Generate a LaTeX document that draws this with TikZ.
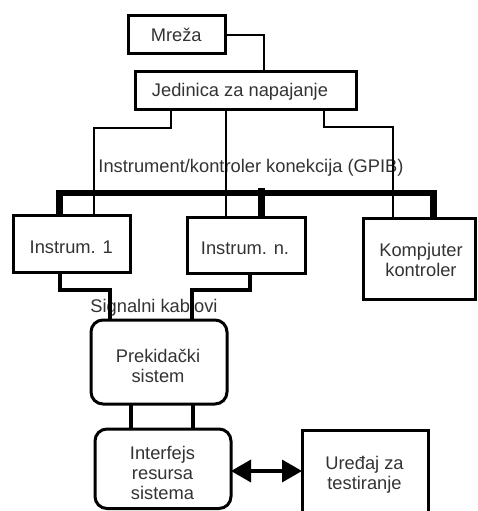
\documentclass[tikz,border=0pt]{standalone}
\usepackage{fontspec}
\setmainfont{Liberation Sans}
\usetikzlibrary{arrows.meta}
\begin{document}
\begin{tikzpicture}[x=1pt,y=-1pt,
  box/.style={draw,line width=3pt,inner sep=0pt,outer sep=0pt},
  rbox/.style={box,rounded corners=12pt},
  lbl/.style={inner sep=0pt,outer sep=0pt,text=black!80,font=\fontsize{18.3}{20}\selectfont},
  txt/.style={lbl,align=center},
  pw/.style={line width=2.2pt,line join=miter},
  bus/.style={line width=6.5pt,line join=miter},
  sigline/.style={line width=3.5pt,line join=miter},
  arr/.style={line width=3.5pt,{Triangle[length=20pt,width=22pt]}-{Triangle[length=20pt,width=22pt]}}
]
\useasboundingbox (0,0) rectangle (477,511);
\clip (0,0) rectangle (477,511);

% boxes
\node[box,minimum width=97pt,minimum height=38pt] (mreza) at (176.5,35) {};
\node[box,minimum width=221pt,minimum height=38pt] (jed) at (245.5,90) {};
\node[box,minimum width=117pt,minimum height=57pt] (i1) at (71.5,243.5) {};
\node[box,minimum width=118pt,minimum height=56pt] (in) at (246,245) {};
\node[box,minimum width=112pt,minimum height=81pt] (komp) at (419,258.5) {};
\node[rbox,minimum width=136pt,minimum height=84pt] (prek) at (159,362) {};
\node[rbox,minimum width=136pt,minimum height=79.5pt] (intf) at (163,468.75) {};
\node[box,minimum width=126pt,minimum height=90pt] (ured) at (365,475) {};

% texts
\node[lbl,anchor=base] (mrezaT) at (176.2,41.7) {Mreža};
\node[lbl,anchor=base] (jedT) at (240,96.7) {Jedinica za napajanje};
\node[lbl,anchor=base] (gpib) at (251,172) {Instrument/kontroler konekcija (GPIB)};
\node[lbl,anchor=base] (i1T) at (71.2,253.3) {Instrum. 1};
\node[lbl,anchor=base] (inT) at (245,254.5) {Instrum. n.};
\node[lbl,anchor=base] (sigT) at (154,312) {Signalni kablovi};
\node[txt] (kompT) at (421,260) {Kompjuter\\kontroler};
\node[txt] (prekT) at (158,365.6) {Prekidački\\sistem};
\node[txt] (intfT) at (162.5,472.5) {Interfejs\\resursa\\sistema};
\node[txt] (uredT) at (364.5,475) {Uređaj za\\testiranje};

% power lines
\coordinate (mj) at (264,0);
\draw[pw] (mreza.east) -| (jed.north -| mj);
\coordinate (pa) at (171,128); \coordinate (pb) at (94,128);
\draw[pw] (jed.south -| pa) -- (pa) -- (pb) -- (i1.north -| pb);
\coordinate (pc) at (226,0);
\draw[pw] (jed.south -| pc) -- (in.north -| pc);
\coordinate (pd) at (324,127); \coordinate (pe) at (393,127);
\draw[pw] (jed.south -| pd) -- (pd) -- (pe) -- (komp.north -| pe);

% GPIB bus
\coordinate (s1) at (59.5,193); \coordinate (s2) at (261.5,188); \coordinate (s3) at (433.5,193);
\draw[bus] (i1.north -| s1) -- (s1) -- (s3) -- (komp.north -| s3);
\draw[bus] (s2) -- (in.north -| s2);

% signal cables
\coordinate (q1) at (60,290); \coordinate (q2) at (110,290);
\coordinate (q3) at (250,290); \coordinate (q4) at (192,290);
\draw[sigline] (i1.south -| q1) -- (q1) -- (q2) -- (prek.north -| q2);
\draw[sigline] (in.south -| q3) -- (q3) -- (q4) -- (prek.north -| q4);
\coordinate (r1) at (131,0); \coordinate (r2) at (193,0);
\draw[sigline] (prek.south -| r1) -- (intf.north -| r1);
\draw[sigline] (prek.south -| r2) -- (intf.north -| r2);

% arrow
\coordinate (ay) at (0,471);
\draw[arr] (intf.east |- ay) -- (ured.west |- ay);
\end{tikzpicture}
\end{document}
